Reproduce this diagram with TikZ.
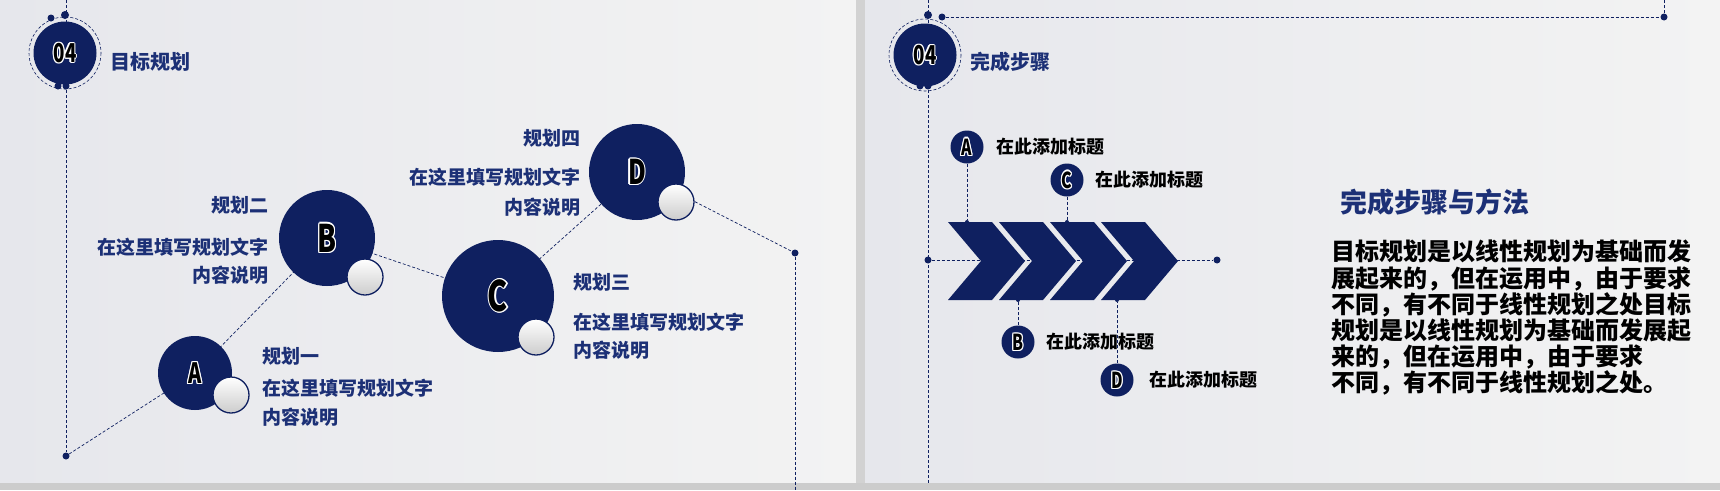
\documentclass[tikz,border=0pt]{standalone}
\usepackage{fontspec}
\setmainfont{Noto Sans CJK SC}
\definecolor{navy}{RGB}{15,32,96}
\definecolor{tnavy}{RGB}{28,48,118}
\tikzset{
 dl/.style={draw=navy, densely dashed, line width=0.7pt},
 big/.style={circle, fill=navy, inner sep=0},
 knob/.style={circle, draw=navy, line width=1.3pt, inner sep=0, minimum size=36pt, top color=white, bottom color=gray!40},
 dotn/.style={circle, fill=navy, inner sep=0, minimum size=7pt},
 lbl/.style={text=tnavy, font=\bfseries\fontsize{19}{21}\selectfont, inner sep=0},
 hd/.style={text=tnavy, font=\bfseries\fontsize{20}{22}\selectfont, inner sep=0, anchor=west},
 small/.style={circle, fill=navy, inner sep=0, minimum size=33pt},
 stxt/.style={text=black, font=\bfseries\fontsize{18}{20}\selectfont, inner sep=0, anchor=west},
}
\newcommand\outl[3]{%
 \foreach \dx/\dy in {-1.2/0,1.2/0,0/-1.2,0/1.2,-.9/-.9,.9/.9,-.9/.9,.9/-.9}{%
  \node[text=white, font=\bfseries\fontsize{#2}{#2}\selectfont, xscale=.72, inner sep=0] at ([shift={(\dx,\dy)}]#1) {#3};}
 \node[text=black, font=\bfseries\fontsize{#2}{#2}\selectfont, xscale=.72, inner sep=0] at (#1) {#3};}
\begin{document}
\begin{tikzpicture}[x=1pt,y=-1pt]
\useasboundingbox (0,0) rectangle (1720,490);
\shade[left color={rgb,255:red,230;green,231;blue,236}, right color={rgb,255:red,243;green,243;blue,243}] (0,0) rectangle (856,483);
\fill[gray!35] (856,0) rectangle (865,490);
\shade[left color={rgb,255:red,230;green,231;blue,236}, right color={rgb,255:red,243;green,243;blue,243}] (865,0) rectangle (1720,483);
\fill[gray!40] (0,483) rectangle (1720,490);

% ===== left panel =====
\coordinate (lt) at (66,0);
\node[dotn] (l0) at (66,456) {};
\draw[dl] (lt) -- (l0);
\draw[navy, densely dashed, line width=0.6pt] (65,53) circle (36);
\node[big, minimum size=63pt] (h1) at (65,53) {};
\node[dotn] at (51,18) {}; \node[dotn, minimum size=8pt] at (65,15) {};
\node[dotn] at (58,86) {}; \node[dotn] at (66,86) {};
\outl{h1}{26}{04}
\node[hd] (t1) at (110,62) {目标规划};

\coordinate (cA) at (195,373);
\coordinate (cB) at (327,238);
\coordinate (cC) at (498,296);
\coordinate (cD) at (637,172);
\node[dotn] (l5) at (795,253) {};
\coordinate (lb) at (795,490);
\draw[dl] (l0) -- (cA);
\draw[dl] (cA) -- (cB);
\draw[dl] (cB) -- (cC);
\draw[dl] (cC) -- (cD);
\draw[dl] (cD) -- (l5);
\draw[dl] (l5) -- (lb);
\node[big, minimum size=74pt] (A) at (cA) {};
\node[big, minimum size=96pt] (B) at (cB) {};
\node[big, minimum size=112pt] (C) at (cC) {};
\node[big, minimum size=96pt] (D) at (cD) {};
\node[knob] (a2) at (231,395) {};
\node[knob] (b2) at (365,277) {};
\node[knob] (c2) at (536,337) {};
\node[knob] (d2) at (676,202) {};
\outl{A}{28}{A}
\outl{B}{38}{B}
\outl{C}{42}{C}
\outl{D}{34}{D}

\node[lbl, anchor=west] (a1) at (262,356) {规划一};
\node[lbl, anchor=west] (a3) at (262,388) {在这里填写规划文字};
\node[lbl, anchor=west] (a4) at (262,417) {内容说明};
\node[lbl, anchor=east] (b1) at (269,205) {规划二};
\node[lbl, anchor=east] (b3) at (269,247) {在这里填写规划文字};
\node[lbl, anchor=east] (b4) at (269,275) {内容说明};
\node[lbl, anchor=west] (c1) at (573,282) {规划三};
\node[lbl, anchor=west] (c3) at (573,322) {在这里填写规划文字};
\node[lbl, anchor=west] (c4) at (573,350) {内容说明};
\node[lbl, anchor=east] (d1) at (581,138) {规划四};
\node[lbl, anchor=east] (d3) at (581,177) {在这里填写规划文字};
\node[lbl, anchor=east] (d4) at (581,207) {内容说明};

% ===== right panel =====
\coordinate (rt) at (928,0);
\coordinate (rb) at (928,483);
\draw[dl] (rt) -- (rb);
\node[dotn] (r1) at (942,17) {};
\node[dotn] (r2) at (1664,17) {};
\coordinate (r3) at (1664,0);
\draw[dl] (r1) -- (r2);
\draw[dl] (r2) -- (r3);
\draw[navy, densely dashed, line width=0.6pt] (925,55) circle (36);
\node[big, minimum size=63pt] (h2) at (925,55) {};
\node[dotn, minimum size=8pt] at (928,15) {};
\node[dotn] at (920,86) {}; \node[dotn] at (928,86) {};
\outl{h2}{26}{04}
\node[hd] (t2) at (970,62) {完成步骤};

\node[dotn] (m0) at (928,260) {};
\node[dotn] (m1) at (1217,260) {};
\draw[dl] (m0) -- (m1);
\foreach \i in {0,...,3}
  \fill[navy] ({948+51*\i},222) -- ++(44,0) -- ++(33,39) -- ++(-33,39) -- ++(-44,0) -- ++(33,-39) -- cycle;

\node[small] (sA) at (967,147) {};
\node[small] (sC) at (1067,180) {};
\node[small] (sB) at (1018,342) {};
\node[small] (sD) at (1117,380) {};
\outl{sA}{22}{A}
\outl{sC}{22}{C}
\outl{sB}{22}{B}
\outl{sD}{22}{D}
\node[dotn, minimum size=4pt] (pA) at (967,222) {};
\node[dotn, minimum size=4pt] (pC) at (1067,222) {};
\node[dotn, minimum size=4pt] (pB) at (1018,300) {};
\node[dotn, minimum size=4pt] (pD) at (1117,300) {};
\draw[dl] (sA) -- (pA);
\draw[dl] (sC) -- (pC);
\draw[dl] (sB) -- (pB);
\draw[dl] (sD) -- (pD);
\node[stxt] (tA) at (996,147) {在此添加标题};
\node[stxt] (tC) at (1095,180) {在此添加标题};
\node[stxt] (tB) at (1046,342) {在此添加标题};
\node[stxt] (tD) at (1149,380) {在此添加标题};

\node[text=tnavy, font=\bfseries\fontsize{27}{29}\selectfont, inner sep=0, anchor=west] (tt) at (1340,202) {完成步骤与方法};
\node[text=black, font=\bfseries\fontsize{24}{26.2}\selectfont, inner sep=0, anchor=north west, align=left] (para) at (1331,240)
 {目标规划是以线性规划为基础而发\\展起来的，但在运用中，由于要求\\不同，有不同于线性规划之处目标\\规划是以线性规划为基础而发展起\\来的，但在运用中，由于要求\\不同，有不同于线性规划之处。};
\end{tikzpicture}
\end{document}
